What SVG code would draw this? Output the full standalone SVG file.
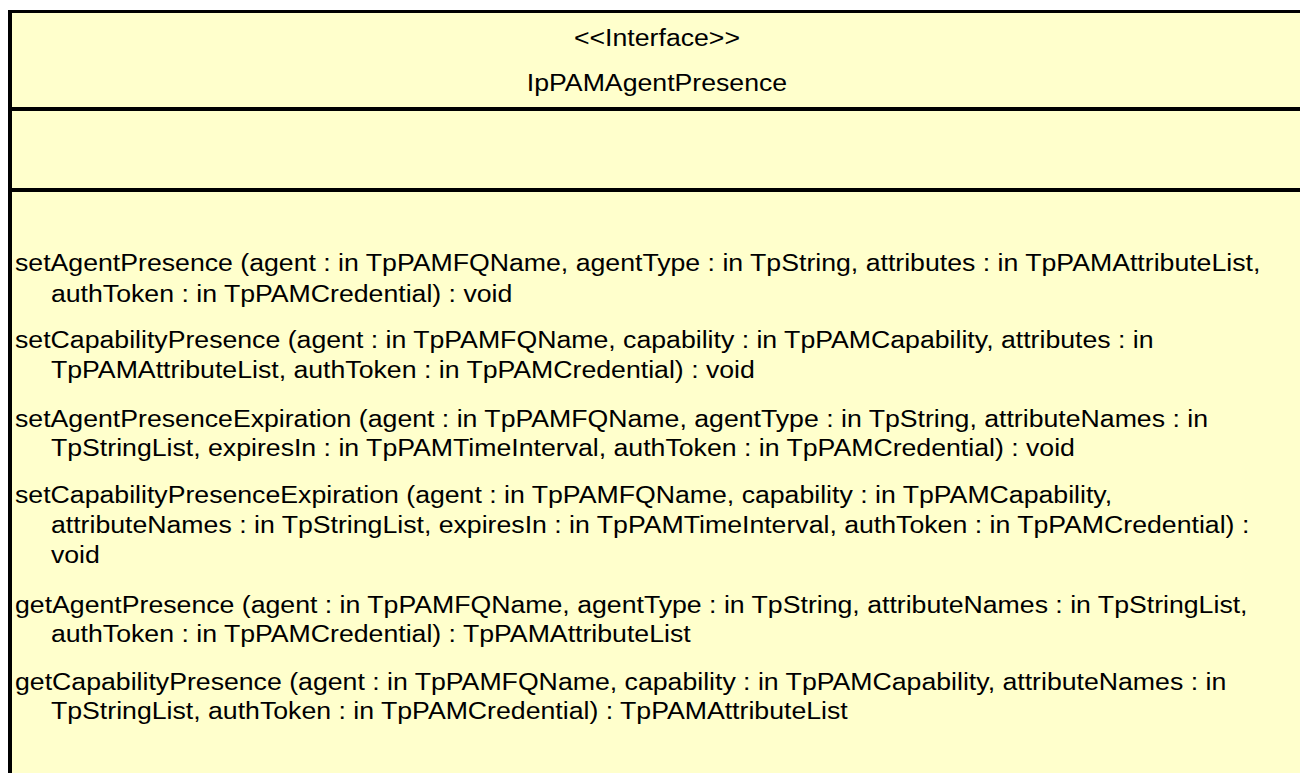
<svg xmlns="http://www.w3.org/2000/svg" width="1300" height="773" viewBox="0 0 1300 773">
  <style>
    .t { font-family: "Liberation Sans", Arial, sans-serif; font-size: 23.3px; fill: #000; }
    .c { text-anchor: middle; }
    .line { stroke: #000; fill: none; }
  </style>
  <rect x="0" y="0" width="1300" height="773" fill="#ffffff"/>
  <g id="IpPAMAgentPresence">
    <rect x="10" y="11.5" width="1300" height="780" fill="#FFFFCC"/>
    <line class="line" x1="8" y1="11.5" x2="1300" y2="11.5" stroke-width="3"/>
    <line class="line" x1="10" y1="10" x2="10" y2="773" stroke-width="4"/>
    <line class="line" x1="8" y1="109" x2="1300" y2="109" stroke-width="4"/>
    <line class="line" x1="8" y1="190" x2="1300" y2="190" stroke-width="4"/>
    <g transform="scale(1.145,1)">
      <text class="t c" x="573.8" y="46.5">&lt;&lt;Interface&gt;&gt;</text>
      <text class="t c" x="573.8" y="91.5">IpPAMAgentPresence</text>
      <text class="t" x="13.1" y="271">setAgentPresence (agent : in TpPAMFQName, agentType : in TpString, attributes : in TpPAMAttributeList,</text>
      <text class="t" x="44.5" y="302">authToken : in TpPAMCredential) : void</text>
      <text class="t" x="13.1" y="348">setCapabilityPresence (agent : in TpPAMFQName, capability : in TpPAMCapability, attributes : in</text>
      <text class="t" x="44.5" y="378">TpPAMAttributeList, authToken : in TpPAMCredential) : void</text>
      <text class="t" x="13.1" y="427">setAgentPresenceExpiration (agent : in TpPAMFQName, agentType : in TpString, attributeNames : in</text>
      <text class="t" x="44.5" y="456">TpStringList, expiresIn : in TpPAMTimeInterval, authToken : in TpPAMCredential) : void</text>
      <text class="t" x="13.1" y="503">setCapabilityPresenceExpiration (agent : in TpPAMFQName, capability : in TpPAMCapability,</text>
      <text class="t" x="44.5" y="533">attributeNames : in TpStringList, expiresIn : in TpPAMTimeInterval, authToken : in TpPAMCredential) :</text>
      <text class="t" x="44.5" y="563">void</text>
      <text class="t" x="13.1" y="613">getAgentPresence (agent : in TpPAMFQName, agentType : in TpString, attributeNames : in TpStringList,</text>
      <text class="t" x="44.5" y="642">authToken : in TpPAMCredential) : TpPAMAttributeList</text>
      <text class="t" x="13.1" y="690">getCapabilityPresence (agent : in TpPAMFQName, capability : in TpPAMCapability, attributeNames : in</text>
      <text class="t" x="44.5" y="719">TpStringList, authToken : in TpPAMCredential) : TpPAMAttributeList</text>
    </g>
  </g>
  <g id="connectors"/>
</svg>
